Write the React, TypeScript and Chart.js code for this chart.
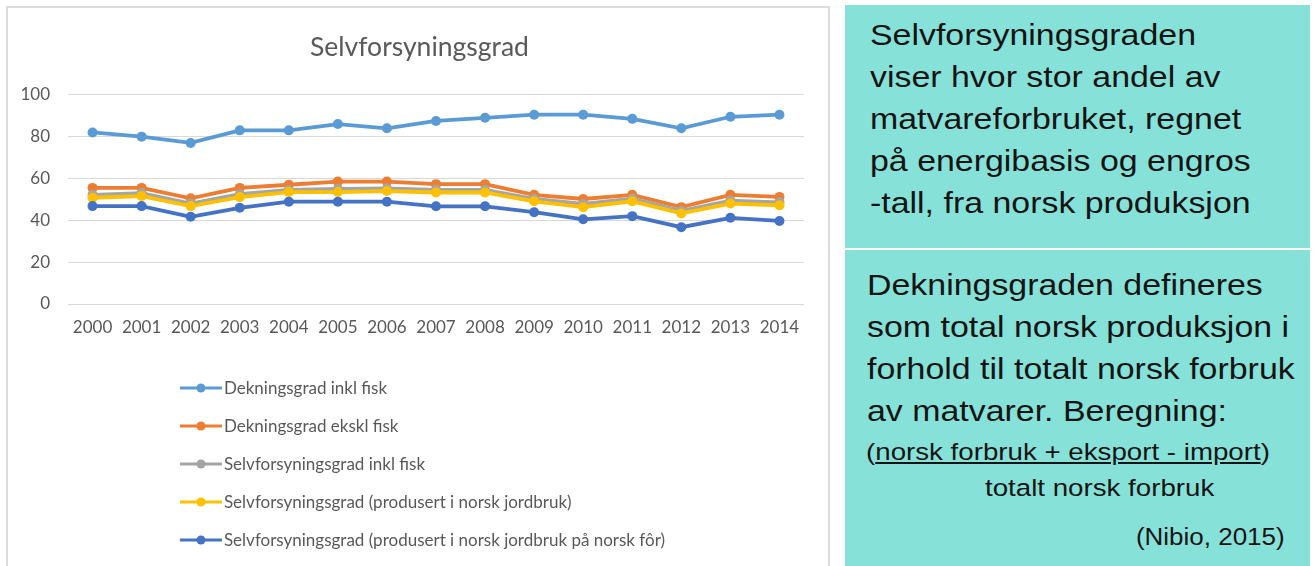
import React, { useEffect, useRef } from "react";
import { Chart, registerables } from "chart.js";

Chart.register(...registerables);

// ---- data ----
const years = ["2000", "2001", "2002", "2003", "2004", "2005", "2006", "2007", "2008", "2009", "2010", "2011", "2012", "2013", "2014"];
const dekningInklFisk = [82, 80, 77, 83, 83, 86, 84, 87.5, 89, 90.5, 90.5, 88.5, 84, 89.5, 90.5];
const dekningEksklFisk = [55.5, 55.5, 50.5, 55.5, 57, 58.5, 58.5, 57.3, 57.3, 52.2, 50.2, 52.2, 46.3, 52.2, 51.2];
const selvInklFisk = [52.2, 53, 48, 52.5, 54.5, 55, 55.2, 54.6, 54.6, 50.3, 47.8, 50.3, 44.5, 49.4, 48.6];
const selvJordbruk = [50.8, 51.6, 46.8, 51.1, 53.5, 53.5, 54, 53.3, 53.3, 49.1, 46.3, 49.1, 43.3, 48, 47.2];
const selvNorskFor = [46.8, 46.8, 41.7, 46, 48.9, 48.9, 48.9, 46.7, 46.7, 43.9, 40.5, 42, 36.7, 41.2, 39.7];
const seriesNames = [
  "Dekningsgrad inkl fisk",
  "Dekningsgrad ekskl fisk",
  "Selvforsyningsgrad inkl fisk",
  "Selvforsyningsgrad (produsert i norsk jordbruk)",
  "Selvforsyningsgrad (produsert i norsk jordbruk på norsk fôr)",
];
const seriesColors = ["#5B9BD5", "#ED7D31", "#A5A5A5", "#FFC000", "#4472C4"];
const seriesValues = [dekningInklFisk, dekningEksklFisk, selvInklFisk, selvJordbruk, selvNorskFor];
const yMin = 0;
const yMax = 100;
const yStep = 20;
const chartTitle = "Selvforsyningsgrad";

const FONT = "Lato, 'Open Sans', sans-serif";
const TEXT_GREY = "#595959";

const stackedLegend = {
  id: "stackedLegend",
  afterDraw(chart: any, _args: any, opts: any) {
    const { ctx, chartArea } = chart;
    ctx.save();
    ctx.font = `${opts.fontSize}px ${FONT}`;
    const widths = chart.data.datasets.map((d: any) => ctx.measureText(d.label).width);
    const blockW = opts.lineLen + opts.gap + Math.max(...widths);
    const left = (chart.width - blockW) / 2 + opts.shiftX;
    chart.data.datasets.forEach((ds: any, i: number) => {
      const y = chartArea.bottom + opts.offsetTop + i * opts.rowH;
      ctx.strokeStyle = ds.borderColor;
      ctx.lineWidth = 3;
      ctx.lineCap = "butt";
      ctx.beginPath();
      ctx.moveTo(left, y);
      ctx.lineTo(left + opts.lineLen, y);
      ctx.stroke();
      ctx.fillStyle = ds.borderColor;
      ctx.beginPath();
      ctx.arc(left + opts.lineLen / 2, y, 4.5, 0, Math.PI * 2);
      ctx.fill();
      ctx.fillStyle = TEXT_GREY;
      ctx.textBaseline = "middle";
      ctx.textAlign = "left";
      ctx.fillText(ds.label, left + opts.lineLen + opts.gap, y + 1);
    });
    ctx.restore();
  },
};

function SelfSufficiencyChart() {
  const ref = useRef<HTMLCanvasElement | null>(null);
  useEffect(() => {
    if (!ref.current) return;
    const chart = new Chart(ref.current, {
      type: "line",
      data: {
        labels: years,
        datasets: seriesValues.map((vals, i) => ({
          label: seriesNames[i],
          data: vals,
          borderColor: seriesColors[i],
          backgroundColor: seriesColors[i],
          pointBackgroundColor: seriesColors[i],
          pointBorderWidth: 0,
          pointRadius: 5,
          borderWidth: 3.8,
          tension: 0,
          fill: false,
          yAxisID: "y",
          order: seriesValues.length - i,
        })),
      },
      options: {
        animation: false,
        responsive: false,
        maintainAspectRatio: false,
        layout: { padding: { left: 0, right: 0, top: 0, bottom: 212 } },
        plugins: {
          legend: { display: false },
          tooltip: { enabled: false },
          title: {
            display: true,
            text: chartTitle,
            color: TEXT_GREY,
            font: { family: FONT, size: 26.5, weight: "normal" },
            padding: { top: 24, bottom: 31 },
          },
          stackedLegend: { fontSize: 17, lineLen: 42, gap: 2, rowH: 38, offsetTop: 84, shiftX: 3 },
        } as any,
        scales: {
          x: {
            type: "category",
            offset: true,
            grid: { display: false, drawTicks: false },
            border: { display: false },
            ticks: {
              color: TEXT_GREY,
              font: { family: FONT, size: 17 },
              padding: 13,
              maxRotation: 0,
              autoSkip: false,
            },
            afterFit: (s: any) => {
              s.height = 50;
            },
          },
          y: {
            position: "left",
            min: yMin,
            max: yMax,
            ticks: {
              stepSize: yStep,
              color: TEXT_GREY,
              font: { family: FONT, size: 17 },
              padding: 18,
            },
            grid: { color: "#D9D9D9", lineWidth: 1, drawTicks: false },
            border: { display: false },
            afterFit: (s: any) => {
              s.width = 60;
            },
          },
          yRight: {
            type: "linear",
            position: "right",
            min: yMin,
            max: yMax,
            display: true,
            grid: { display: false, drawTicks: false },
            border: { display: false },
            ticks: { display: false },
            afterFit: (s: any) => {
              s.width = 27;
            },
          },
        },
      },
      plugins: [stackedLegend],
    });
    return () => chart.destroy();
  }, []);
  return <canvas ref={ref} width={823} height={558} style={{ display: "block", width: 823, height: 558 }} />;
}

const boxText: React.CSSProperties = {
  fontFamily: "'Liberation Sans', Arial, Helvetica, sans-serif",
  color: "#141414",
  transformOrigin: "left top",
  transform: "scaleX(1.13)",
  whiteSpace: "nowrap",
};

export default function App() {
  return (
    <div style={{ position: "fixed", left: 0, top: 0, width: 1315, height: 566, background: "#fff", overflow: "hidden" }}>
      <div
        style={{
          position: "absolute",
          left: 6,
          top: 6,
          width: 824,
          height: 600,
          border: "2px solid #DCDCDC",
          boxSizing: "border-box",
        }}
      />
      <div style={{ position: "absolute", left: 8, top: 8 }}>
        <SelfSufficiencyChart />
      </div>
      <div style={{ position: "absolute", left: 845, top: 5, width: 465, height: 243, background: "#86E2D8" }}>
        <div style={{ ...boxText, position: "absolute", left: 25, top: 9, fontSize: 30, lineHeight: "42px" }}>
          Selvforsyningsgraden
          <br />
          viser hvor stor andel av
          <br />
          matvareforbruket, regnet
          <br />
          på energibasis og engros
          <br />
          -tall, fra norsk produksjon
        </div>
      </div>
      <div style={{ position: "absolute", left: 845, top: 250, width: 465, height: 320, background: "#86E2D8" }}>
        <div style={{ ...boxText, position: "absolute", left: 22, top: 14, fontSize: 30, lineHeight: "42px" }}>
          Dekningsgraden defineres
          <br />
          som total norsk produksjon i
          <br />
          forhold til totalt norsk forbruk
          <br />
          av matvarer. Beregning:
        </div>
        <div style={{ ...boxText, position: "absolute", left: 21, top: 187, fontSize: 24.5, lineHeight: "30px" }}>
          (<span style={{ textDecoration: "underline" }}>norsk forbruk + eksport - import</span>)
        </div>
        <div style={{ ...boxText, position: "absolute", left: 140, top: 223, fontSize: 24.5, lineHeight: "30px" }}>
          totalt norsk forbruk
        </div>
        <div
          style={{
            ...boxText,
            position: "absolute",
            right: 25,
            top: 273,
            fontSize: 23,
            lineHeight: "28px",
            transformOrigin: "right top",
          }}
        >
          (Nibio, 2015)
        </div>
      </div>
    </div>
  );
}
